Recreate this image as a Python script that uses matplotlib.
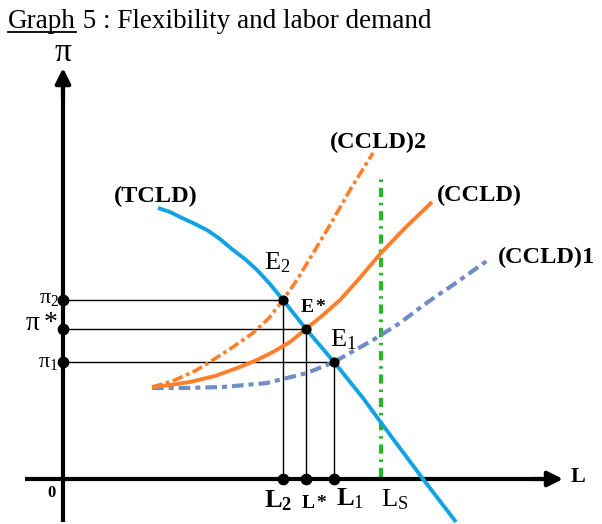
import numpy as np
import matplotlib
matplotlib.use('Agg')
import matplotlib.pyplot as plt

plt.rcParams['font.family'] = ['Liberation Serif', 'DejaVu Serif']
plt.rcParams['mathtext.fontset'] = 'custom'
plt.rcParams['mathtext.rm'] = 'Liberation Serif'
plt.rcParams['mathtext.it'] = 'Liberation Serif:italic'
plt.rcParams['mathtext.bf'] = 'Liberation Serif:bold'

# curves (L on x, pi on y)
tcld_L = [9.5, 10.7, 11.7, 13.0, 14.4, 15.7, 17.0, 18.2, 19.4, 20.7, 22.0, 24.3, 27.1, 30.0, 31.9, 36.0, 39.3]
tcld_pi = [27.1, 26.7, 26.2, 25.6, 24.9, 24.0, 22.9, 22.0, 20.9, 19.5, 17.9, 15.0, 11.7, 8.1, 5.5, 0.0, -4.3]

ccld_L = [8.9, 10.7, 12.7, 15.2, 17.7, 19.4, 21.0, 22.7, 24.3, 26.0, 27.7, 29.5, 31.8, 34.2, 36.9]
ccld_pi = [9.2, 9.4, 9.7, 10.3, 11.2, 11.9, 12.7, 13.7, 15.0, 16.4, 17.9, 19.9, 22.6, 25.1, 27.7]

ccld2_L = [8.9, 10.0, 11.2, 13.2, 15.0, 17.0, 19.0, 20.6, 22.0, 23.4, 25.2, 26.7, 28.7, 31.0]
ccld2_pi = [9.2, 9.5, 9.9, 10.8, 11.9, 13.2, 14.6, 16.1, 17.9, 19.9, 22.9, 25.4, 28.9, 32.6]

ccld1_L = [8.9, 12.0, 16.0, 20.4, 24.4, 27.1, 31.0, 33.7, 35.4, 37.2, 39.0, 42.5]
ccld1_pi = [9.1, 9.1, 9.2, 9.6, 10.6, 11.7, 13.9, 15.6, 16.9, 18.2, 19.4, 21.9]

# equilibria
eq_L = [22.0, 24.3, 27.1]
eq_pi = [17.9, 15.0, 11.7]
eq_names = [r'$\mathrm{E}_2$', r'$\mathbf{E*}$', r'$\mathrm{E}_1$']
L_names = [r'$\mathbf{L}_\mathbf{2}$', r'$\mathbf{L*}$', r'$\mathbf{L}_\mathrm{1}$']
pi_names = [r'$\mathrm{\pi}_2$', r'$\mathrm{\pi*}$', r'$\mathrm{\pi}_1$']

Ls = 31.8
Ls_top = 30.2

blue = '#12a2e2'
orange = '#ff7f2a'
slate = '#6f8fc4'
green = '#2bb52b'

fig = plt.figure(figsize=(6.02, 5.24), dpi=100)
ax = fig.add_axes([0, 0, 1, 1])
ax.set_xlim(-6.3, 53.9)
ax.set_ylim(-4.5, 47.9)
ax.axis('off')

# axes with arrows
ax.plot([0, 0], [-4.3, 40], color='black', lw=3, solid_capstyle='butt', zorder=3)
ax.plot([-3.8, 49], [0, 0], color='black', lw=3, solid_capstyle='butt', zorder=3)
arr = dict(arrowstyle='-|>,head_length=0.9,head_width=0.45', lw=3, color='black',
           shrinkA=0, shrinkB=0)
ax.annotate('', xy=(0, 41.1), xytext=(0, 38), arrowprops=arr, zorder=3)
ax.annotate('', xy=(50.0, 0), xytext=(47, 0), arrowprops=arr, zorder=3)

# guide lines
for l, p in zip(eq_L, eq_pi):
    ax.plot([0, l], [p, p], color='black', lw=1, zorder=2)
    ax.plot([l, l], [p, 0], color='black', lw=1, zorder=2)

# supply line
ax.plot([Ls, Ls], [0.2, Ls_top], color=green, lw=3, dashes=(2.2, 1.4, 0.6, 1.4), zorder=2)

# curves
ax.plot(ccld1_L, ccld1_pi, color=slate, lw=3, dashes=(2.8, 1.2, 1.2, 1.2), zorder=3)
ax.plot(ccld2_L, ccld2_pi, color=orange, lw=2.6, dashes=(3, 1, 1, 1), zorder=3)
ax.plot(ccld_L, ccld_pi, color=orange, lw=2.8, solid_capstyle='butt',
        solid_joinstyle='round', zorder=3)
ax.plot(tcld_L, tcld_pi, color=blue, lw=2.8, solid_capstyle='butt',
        solid_joinstyle='round', zorder=4)

# dots
ax.scatter(eq_L, eq_pi, s=40, color='black', zorder=5)
ax.scatter([0, 0, 0], eq_pi, s=55, color='black', zorder=5)
ax.scatter(eq_L, [0, 0, 0], s=55, color='black', zorder=5)

# labels
ax.text(0, 42.6, 'π', fontsize=24, ha='center', va='center')
ax.text(51.5, 0.2, 'L', fontsize=16, fontweight='bold', ha='center', va='center')
ax.text(-1.1, -1.4, '0', fontsize=12, fontweight='bold', ha='center', va='center')

ax.text(21.4, 21.6, eq_names[0], fontsize=19, ha='center', va='center')
ax.text(25.0, 17.1, eq_names[1], fontsize=14, ha='center', va='center')
ax.text(28.0, 13.9, eq_names[2], fontsize=19, ha='center', va='center')

ax.text(21.5, -2.2, L_names[0], fontsize=19, ha='center', va='center')
ax.text(25.1, -2.5, L_names[1], fontsize=14, ha='center', va='center')
ax.text(28.7, -2.0, L_names[2], fontsize=19, ha='center', va='center')
ax.text(33.2, -2.1, r'$\mathrm{L}_\mathrm{S}$', fontsize=19, ha='center', va='center')

ax.text(-0.4, eq_pi[0] + 0.1, pi_names[0], fontsize=16, ha='right', va='center')
ax.text(-0.5, eq_pi[1] + 0.5, pi_names[1], fontsize=20, ha='right', va='center')
ax.text(-0.5, eq_pi[2], pi_names[2], fontsize=16, ha='right', va='center')

ax.text(9.3, 28.3, '(TCLD)', fontsize=17.5, fontweight='bold', ha='center', va='center')
ax.text(31.5, 33.7, '(CCLD)2', fontsize=17.5, fontweight='bold', ha='center', va='center')
ax.text(41.6, 28.4, '(CCLD)', fontsize=17.5, fontweight='bold', ha='center', va='center')
ax.text(48.3, 22.2, '(CCLD)1', fontsize=17.5, fontweight='bold', ha='center', va='center')

# title with underlined "Graph"
t1 = fig.text(8 / 602, 1 - 22 / 524, 'Graph', fontsize=19.5, ha='left', va='center')
fig.canvas.draw()
bb = t1.get_window_extent().transformed(fig.transFigure.inverted())
fig.text(bb.x1, 1 - 22 / 524, ' 5 : Flexibility and labor demand', fontsize=19.5,
         ha='left', va='center')
fig.add_artist(plt.Line2D([bb.x0, bb.x1], [bb.y0 + 0.004, bb.y0 + 0.004],
                          transform=fig.transFigure, color='black', lw=1.3))

fig.savefig('out.png', dpi=100)
